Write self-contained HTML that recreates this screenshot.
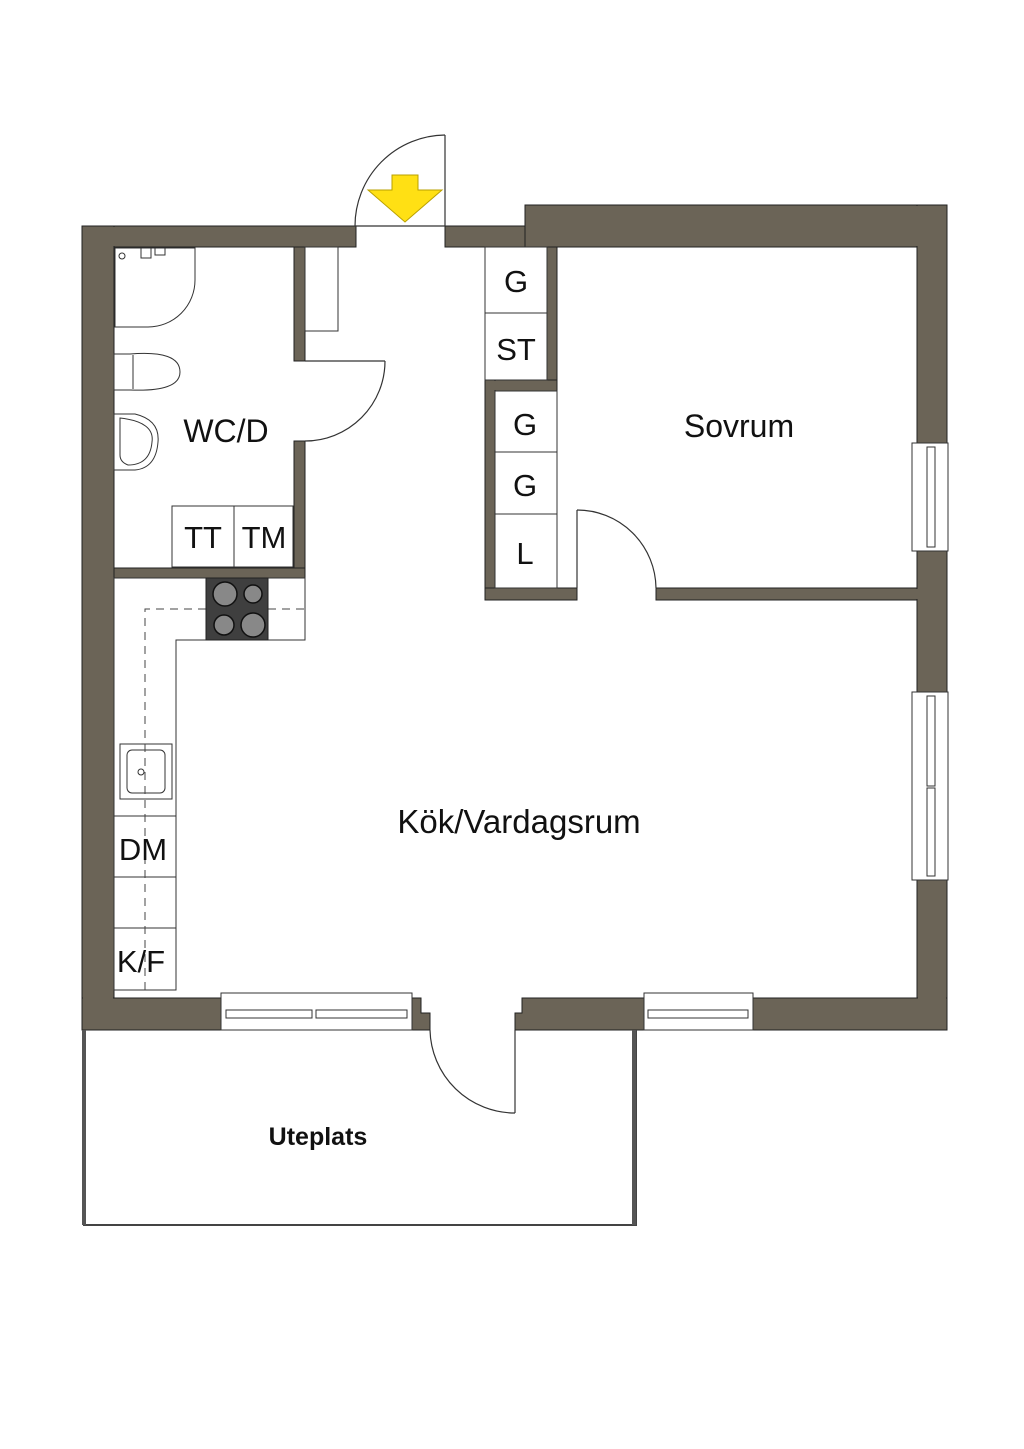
<!DOCTYPE html>
<html><head><meta charset="utf-8"><style>
html,body{margin:0;padding:0;background:#fff;}
svg{display:block;}
text{font-family:"Liberation Sans",sans-serif;fill:#111;}
</style></head><body>
<svg width="1024" height="1449" viewBox="0 0 1024 1449" xmlns="http://www.w3.org/2000/svg">
<rect width="1024" height="1449" fill="#fff"/>
<g fill="#6b6457" stroke="#222" stroke-width="1">
<rect x="82" y="226" width="274" height="21"/>
<rect x="445" y="226" width="82" height="21"/>
<rect x="525" y="205" width="422" height="42"/>
<rect x="82" y="226" width="32" height="804"/>
<rect x="917" y="205" width="30" height="825"/>
<rect x="82" y="998" width="140" height="32"/>
<path d="M411 998 H421 V1013 H430 V1030 H411 Z"/>
<path d="M522 998 H644 V1030 H515 V1013 H522 Z"/>
<rect x="752" y="998" width="195" height="32"/>
<rect x="294" y="247" width="11" height="114"/>
<rect x="294" y="441" width="11" height="137"/>
<rect x="114" y="568" width="191" height="10"/>
<rect x="547" y="247" width="10" height="143"/>
<rect x="485" y="380" width="72" height="11"/>
<rect x="485" y="380" width="10" height="220"/>
<rect x="485" y="588" width="92" height="12"/>
<rect x="656" y="588" width="261" height="12"/>
</g>
<g fill="#6b6457">
<rect x="83" y="227" width="30" height="802"/>
<rect x="83" y="227" width="272" height="19"/>
<rect x="526" y="206" width="420" height="40"/>
<rect x="918" y="206" width="28" height="823"/>
<rect x="83" y="999" width="138" height="30"/>
<rect x="753" y="999" width="193" height="30"/>
<rect x="295" y="569" width="9" height="8"/>
<rect x="486" y="381" width="70" height="9"/>
<rect x="486" y="589" width="90" height="10"/>
<rect x="657" y="589" width="288" height="10"/>
</g>
<g fill="#fff" stroke="#333" stroke-width="1">
<rect x="912" y="443" width="36" height="108"/>
<rect x="927" y="447" width="8" height="100"/>
<rect x="912" y="692" width="36" height="188"/>
<rect x="927" y="696" width="8" height="90"/>
<rect x="927" y="788" width="8" height="88"/>
<rect x="221" y="993" width="191" height="37"/>
<rect x="226" y="1010" width="86" height="8"/>
<rect x="316" y="1010" width="91" height="8"/>
<rect x="644" y="993" width="109" height="37"/>
<rect x="648" y="1010" width="100" height="8"/>
</g>
<g fill="none" stroke="#333" stroke-width="1.2">
<line x1="445" y1="135" x2="445" y2="226"/>
<path d="M445 135 A91 91 0 0 0 355 226"/>
<line x1="355" y1="226" x2="445" y2="226"/>
<line x1="305" y1="361" x2="385" y2="361"/>
<path d="M385 361 A80 80 0 0 1 305 441"/>
<line x1="577" y1="510" x2="577" y2="588"/>
<path d="M577 510 A79 79 0 0 1 656 588"/>
<line x1="515" y1="1030" x2="515" y2="1113"/>
<path d="M430 1030 A85 85 0 0 0 515 1113"/>
</g>
<polygon points="392,175 418,175 418,190 442,190 405,222 368,190 392,190" fill="#ffe014" stroke="#b9a000" stroke-width="1"/>
<g fill="#fff" stroke="#333" stroke-width="1">
<rect x="305" y="247" width="33" height="84"/>
<path d="M115 248 H195 V280 A47 47 0 0 1 148 327 H115 Z"/>
<circle cx="122" cy="256" r="3"/>
<rect x="141" y="248" width="10" height="10"/>
<rect x="155" y="248" width="10" height="7"/>
<path d="M114 354 H130 Q180 350 180 372 Q180 392 130 390 H114 Z"/>
<line x1="133" y1="355" x2="133" y2="389"/>
<path d="M114 414 H135 Q160 420 158 442 Q156 468 135 470 H114 Z"/>
<path d="M120 418 Q155 422 152 442 Q150 465 128 465 Q120 462 120 455 Z"/>
<rect x="172" y="506" width="62" height="61"/>
<rect x="234" y="506" width="59" height="61"/>
<rect x="485" y="247" width="62" height="66"/>
<rect x="485" y="313" width="62" height="67"/>
<rect x="495" y="391" width="62" height="61"/>
<rect x="495" y="452" width="62" height="62"/>
<rect x="495" y="514" width="62" height="74"/>
<path d="M114 578 H305 V640 H176 V990 H114 Z"/>
<line x1="114" y1="816" x2="176" y2="816"/>
<line x1="114" y1="877" x2="176" y2="877"/>
<line x1="114" y1="928" x2="176" y2="928"/>
<rect x="120" y="744" width="52" height="55"/>
<rect x="127" y="750" width="38" height="43" rx="5"/>
<circle cx="141" cy="772" r="3"/>
</g>
<path d="M145 990 V609 H305" fill="none" stroke="#444" stroke-width="1" stroke-dasharray="8,6"/>
<rect x="206" y="578" width="62" height="62" fill="#3f3f3f" stroke="#222"/>
<g fill="#888" stroke="#111" stroke-width="1.5">
<circle cx="225" cy="594" r="12"/>
<circle cx="253" cy="594" r="9"/>
<circle cx="224" cy="625" r="10"/>
<circle cx="253" cy="625" r="12"/>
</g>
<path d="M84 1030 V1225 H636 V1030" fill="none" stroke="#444" stroke-width="2"/>
<line x1="84" y1="1030" x2="84" y2="1225" stroke="#555" stroke-width="4"/>
<line x1="634" y1="1030" x2="634" y2="1225" stroke="#555" stroke-width="4"/>
<text x="226" y="442" font-size="32" text-anchor="middle">WC/D</text>
<text x="203" y="548" font-size="31" text-anchor="middle">TT</text>
<text x="264" y="548" font-size="31" text-anchor="middle">TM</text>
<text x="516" y="292" font-size="31" text-anchor="middle">G</text>
<text x="516" y="360" font-size="31" text-anchor="middle">ST</text>
<text x="525" y="435" font-size="31" text-anchor="middle">G</text>
<text x="525" y="496" font-size="31" text-anchor="middle">G</text>
<text x="525" y="564" font-size="31" text-anchor="middle">L</text>
<text x="739" y="437" font-size="32" text-anchor="middle">Sovrum</text>
<text x="519" y="833" font-size="33" text-anchor="middle">Kök/Vardagsrum</text>
<text x="143" y="860" font-size="31" text-anchor="middle">DM</text>
<text x="141" y="972" font-size="31" text-anchor="middle">K/F</text>
<text x="318" y="1145" font-size="25" font-weight="bold" text-anchor="middle" style="font-weight:600">Uteplats</text>
</svg>
</body></html>
